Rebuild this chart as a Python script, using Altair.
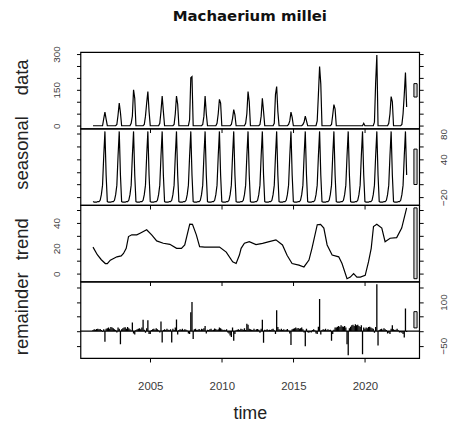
import altair as alt
import pandas as pd

# ---------------- data ----------------
years = list(range(2001, 2023))

# monthly observations, Jan..Dec for each year
data_rows = [
    [0, 0, 0, 0, 0, 0, 0, 0, 0, 30, 57, 28],      # 2001
    [0, 0, 0, 0, 0, 0, 0, 0, 5, 45, 95, 55],      # 2002
    [0, 0, 0, 0, 0, 0, 0, 0, 10, 40, 150, 115],   # 2003
    [0, 0, 0, 0, 0, 0, 0, 5, 40, 95, 143, 60],    # 2004
    [0, 0, 0, 0, 0, 0, 0, 0, 10, 60, 124, 60],    # 2005
    [0, 0, 0, 0, 0, 0, 0, 0, 5, 50, 124, 90],     # 2006
    [0, 0, 0, 0, 0, 0, 0, 0, 0, 25, 200, 205],    # 2007
    [0, 0, 0, 0, 0, 0, 0, 0, 5, 40, 124, 50],     # 2008
    [0, 0, 0, 0, 0, 0, 0, 0, 10, 50, 110, 95],    # 2009
    [0, 0, 0, 0, 0, 0, 0, 0, 5, 30, 67, 45],      # 2010
    [0, 0, 0, 0, 0, 0, 0, 0, 10, 50, 143, 100],   # 2011
    [0, 0, 0, 0, 0, 0, 0, 0, 5, 40, 115, 60],     # 2012
    [0, 0, 0, 0, 0, 0, 0, 0, 10, 130, 164, 60],   # 2013
    [0, 0, 0, 0, 0, 0, 0, 0, 5, 20, 57, 35],      # 2014
    [0, 0, 0, 0, 0, 0, 0, 0, 5, 15, 40, 20],      # 2015
    [0, 0, 0, 0, 0, 0, 0, 0, 20, 130, 247, 175],  # 2016
    [0, 0, 0, 0, 0, 0, 0, 0, 5, 45, 88, 70],      # 2017
    [0, 0, 0, 0, 0, 0, 0, 0, 0, 0, 0, 0],         # 2018
    [0, 0, 0, 0, 0, 0, 0, 0, 0, 0, 0, 10],        # 2019
    [0, 0, 0, 0, 0, 0, 0, 0, 15, 180, 296, 0],    # 2020
    [0, 0, 0, 0, 0, 0, 0, 0, 10, 50, 122, 100],   # 2021
    [0, 0, 0, 0, 0, 0, 0, 5, 50, 130, 222, 78],   # 2022
]

# periodic STL seasonal component (one cycle, Jan..Dec)
seasonal_profile = [-27, -28, -28, -28, -27, -27, -25, -16, -1, 45, 84, 15]

# remainder component, Jan..Dec for each year
remainder_rows = [
    [4, 6, 5, 7, 8, 6, 7, 4, -2, 6, -37, 8],
    [10, 12, 8, 14, 12, 10, 6, 4, -5, 12, 8, -45],
    [6, 10, 12, 13, 8, 14, 10, 6, 2, 30, -8, -12],
    [4, 6, 8, 10, 6, 12, 39, 5, -6, 10, 37, -10],
    [-10, 4, 6, 8, 5, 10, 6, 3, -5, 33, -39, 4],
    [6, 4, 8, 5, 3, 6, -39, 8, 4, 12, 40, -12],
    [4, 6, 5, 8, 3, 6, 5, 2, -8, -10, 65, 100],
    [-27, 6, 8, 4, 5, 7, 3, 8, 6, 10, 18, -8],
    [5, 4, 6, 8, 3, 5, 9, 7, 4, 6, 12, 10],
    [6, 4, 5, 3, 6, -5, -8, -15, -20, 12, -33, -10],
    [3, 5, 6, 4, 8, 6, 5, 10, 4, 25, 22, 8],
    [6, 5, 4, 8, 3, 6, 7, 5, -6, 8, 39, -40],
    [5, 4, 6, 3, 5, 4, 6, 8, 3, -10, 72, 14],
    [6, 5, 8, 4, 6, 3, 5, 7, 2, -8, -48, 6],
    [8, 10, 12, 9, 11, 8, 10, 12, 6, -5, -52, 8],
    [-4, -6, -3, -5, 4, 6, 3, -8, -10, 15, 111, -12],
    [4, 6, 5, 8, 3, 6, 4, 5, -33, -10, 5, 12],
    [12, 15, 18, 14, 20, 16, 15, 18, 12, -45, -83, 10],
    [15, 20, 22, 18, 24, 20, 22, 18, 14, 20, -80, 12],
    [8, 12, 10, 14, 15, 12, 10, 8, -6, 14, 161, -50],
    [4, 6, 8, 5, 10, 6, 4, -8, -6, -10, 8, 20],
    [6, 4, 5, 8, 3, -5, -4, -6, -10, -22, 78, -3],
]

# trend component read at its turning points
trend_time = [2001.0, 2001.30, 2001.58, 2001.86, 2002.0, 2002.21, 2002.67, 2002.97, 2003.13, 2003.32,
              2003.48, 2003.71, 2004.06, 2004.29, 2004.75, 2005.10, 2005.45, 2005.91, 2006.37, 2006.84,
              2007.18, 2007.41, 2007.76, 2007.95, 2008.22, 2008.45, 2008.80, 2009.27, 2009.84, 2010.31,
              2010.76, 2011.0, 2011.23, 2011.35, 2011.58, 2011.92, 2012.39, 2012.85, 2013.31, 2013.78,
              2014.24, 2014.56, 2014.91, 2015.39, 2015.74, 2016.09, 2016.30, 2016.67, 2016.90, 2017.13,
              2017.36, 2017.71, 2018.17, 2018.40, 2018.75, 2018.98, 2019.21, 2019.44, 2019.68, 2020.02,
              2020.25, 2020.44, 2020.60, 2020.83, 2021.18, 2021.41, 2021.76, 2022.22, 2022.57, 2022.917]
trend_value = [21, 15, 11, 8, 8, 10.7, 13.3, 14, 16, 20,
               29.3, 30.7, 30.7, 32, 34.7, 30.7, 25.9, 24, 23.2, 20,
               20, 22.7, 39.2, 39, 30.7, 21.3, 21, 21, 21, 17,
               9.3, 8, 14.7, 20, 24, 25.3, 23, 24, 25.3, 26.7,
               22.7, 14.5, 8, 6.7, 5.3, 10.7, 20, 38.7, 39, 36,
               22.7, 14.7, 13.3, 8, -4, -2.7, 0, -2.7, -2.7, -1.3,
               9.3, 20, 37.3, 39, 36, 25.3, 28, 28.5, 36, 52]

# axis ticks / labels
x_ticks = [2005, 2010, 2015, 2020]
data_ticks = [0, 50, 100, 150, 200, 250, 300]
data_labels = [0, 150, 300]
seasonal_ticks = [-20, 0, 20, 40, 60, 80]
seasonal_labels = [-20, 40, 80]
trend_ticks = [0, 10, 20, 30, 40, 50]
trend_labels = [0, 20, 40]
remainder_ticks = [-50, 0, 50, 100, 150]
remainder_labels = [-50, 100]

# ---------------- tables ----------------
time = [y + m / 12 for y in years for m in range(12)]
monthly = pd.DataFrame({
    "time": time,
    "data": [v for row in data_rows for v in row],
    "seasonal": seasonal_profile * len(years),
    "remainder": [v for row in remainder_rows for v in row],
})
trend_df = pd.DataFrame({"time": trend_time, "trend": trend_value})


def usr(vals):
    lo, hi = min(vals), max(vals)
    d = (hi - lo) * 0.04
    return [lo - d, hi + d]


x_dom = usr(time)
series = {
    "data": list(monthly["data"]),
    "seasonal": list(monthly["seasonal"]),
    "trend": trend_value,
    "remainder": list(monthly["remainder"]),
}
mx = min(max(v) - min(v) for v in series.values())
dx = (x_dom[1] - x_dom[0]) / 64


def bar_df(name):
    v = series[name]
    c = (max(v) + min(v)) / 2
    return pd.DataFrame({"bx0": [x_dom[1] - dx], "bx1": [x_dom[1] - 0.4 * dx],
                         "by0": [c - mx / 2], "by1": [c + mx / 2]})


FONT = "Liberation Sans"
W, H = 341, 77
LBL = "#3a3a3a"
TITLE_SIZE = 18.5


def xenc(field, last):
    ax = alt.Axis(values=x_ticks, format="d", labels=last, ticks=True, tickSize=4,
                  tickColor="black", domain=False, grid=False, labelFontSize=11.5,
                  labelPadding=19, labelColor=LBL, labelFont=FONT,
                  title="time" if last else "", titleFontSize=18, titleFont=FONT,
                  titleFontWeight="normal", titleColor="#222", titleY=56,
                  titleBaseline="middle")
    return alt.X(field, type="quantitative",
                 scale=alt.Scale(domain=x_dom, nice=False, zero=False), axis=ax)


def yaxis(orient, ticks, labels, name, title_y):
    expr = "indexof(" + str(labels) + ", datum.value) >= 0 ? datum.label : ''"
    common = dict(orient=orient, values=ticks, tickSize=4, tickColor="black", domain=False,
                  grid=False, labelAngle=270, labelAlign="center", labelFontSize=10,
                  labelColor=LBL, labelFont=FONT, labelPadding=15, labelOverlap=False,
                  labelExpr=expr)
    if orient == "left":
        return alt.Axis(labelBaseline="bottom", title=name, titleFont=FONT,
                        titleFontSize=TITLE_SIZE, titleFontWeight="normal", titleColor="#222",
                        titleAngle=270, titleX=-59, titleY=title_y, titleAlign="center",
                        titleBaseline="middle", labels=(name in ("data", "trend")), **common)
    return alt.Axis(labelBaseline="top", title="", labels=(name in ("seasonal", "remainder")),
                    **common)


def panel(name, df, field, ticks, labels, title_y, last=False):
    ysc = alt.Scale(domain=usr(series[name]), nice=False, zero=False)
    layers = []
    if name == "remainder":
        main = alt.Chart(df).mark_rule(color="black", strokeWidth=1.3, clip=True).encode(
            x=xenc("time", last),
            y=alt.Y(field, type="quantitative", scale=ysc,
                    axis=yaxis("left", ticks, labels, name, title_y)),
            y2=alt.datum(0),
        )
        zero = alt.Chart(pd.DataFrame({"x0": [x_dom[0]], "x1": [x_dom[1]], "y0": [0]})).mark_rule(
            color="black", strokeWidth=1.1).encode(
            x=xenc("x0", last), x2="x1:Q",
            y=alt.Y("y0", type="quantitative", scale=ysc, axis=None),
        )
        layers = [main, zero]
    else:
        main = alt.Chart(df).mark_line(color="black", strokeWidth=1.2, clip=True).encode(
            x=xenc("time", last),
            y=alt.Y(field, type="quantitative", scale=ysc,
                    axis=yaxis("left", ticks, labels, name, title_y)),
        )
        layers = [main]
    bar = alt.Chart(bar_df(name)).mark_rect(fill="#d9d9d9", stroke="black", strokeWidth=1).encode(
        x=xenc("bx0", last), x2="bx1:Q",
        y=alt.Y("by0", type="quantitative", scale=ysc,
                axis=yaxis("right", ticks, labels, name, title_y)),
        y2="by1:Q",
    )
    layers.append(bar)
    return alt.layer(*layers).resolve_axis(y="independent").properties(width=W, height=H)


p1 = panel("data", monthly, "data", data_ticks, data_labels, 25)
p2 = panel("seasonal", monthly, "seasonal", seasonal_ticks, seasonal_labels, 24)
p3 = panel("trend", trend_df, "trend", trend_ticks, trend_labels, 34)
p4 = panel("remainder", monthly, "remainder", remainder_ticks, remainder_labels, 32, last=True)

chart = alt.vconcat(
    p1, p2, p3, p4, spacing=0, bounds="flush",
    title=alt.TitleParams("Machaerium millei", font="DejaVu Sans", fontSize=15,
                          fontWeight="bold", anchor="middle", frame="group", offset=21.5,
                          color="#111"),
).properties(
    padding={"left": 12, "top": 7, "right": 0, "bottom": 0},
    background="white",
).configure_view(stroke="black", strokeWidth=1.2)

chart.save("out.html", embed_options={"renderer": "svg", "actions": False})
